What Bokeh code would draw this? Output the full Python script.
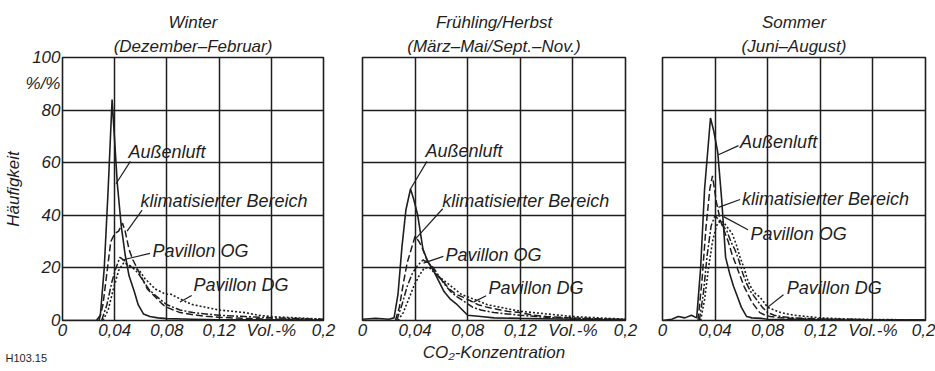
from bokeh.plotting import figure
from bokeh.layouts import row
from bokeh.models import Range1d, FixedTicker, Title
from bokeh.embed import file_html
from bokeh.resources import INLINE
from bokeh.core.properties import value

# ---------------- data ----------------
x_ticks = [0, 0.04, 0.08, 0.12, 0.16, 0.2]
x_tick_labels = ["0", "0,04", "0,08", "0,12", "Vol.-%", "0,2"]
y_grid_ticks = [0, 20, 40, 60, 80, 100]
y_axis_ticks = [0, 20, 40, 60, 80, 90, 100]
y_axis_labels = ["0", "20", "40", "60", "80", "%/%", "100"]

series_names = ["Außenluft", "klimatisierter Bereich", "Pavillon OG", "Pavillon DG"]

titles_top = ["Winter", "Frühling/Herbst", "Sommer"]
titles_sub = ["(Dezember–Februar)", "(März–Mai/Sept.–Nov.)", "(Juni–August)"]

# Winter
w_aussen_x = [0, 0.026, 0.029, 0.032, 0.035, 0.038, 0.040, 0.042, 0.045, 0.048, 0.051, 0.055, 0.058, 0.062, 0.067, 0.073, 0.080, 0.10, 0.12, 0.16, 0.2]
w_aussen_y = [0, 0, 2, 20, 50, 84, 68, 52, 36, 25, 17, 11, 6, 2.5, 1.5, 1, 0.7, 0.5, 0.3, 0.3, 0.2]
w_klima_x = [0.028, 0.031, 0.034, 0.037, 0.040, 0.043, 0.046, 0.048, 0.051, 0.054, 0.057, 0.061, 0.065, 0.069, 0.073, 0.077, 0.080, 0.085, 0.090, 0.10, 0.11, 0.12, 0.14, 0.16, 0.18, 0.2]
w_klima_y = [0, 6, 18, 30, 33, 34, 37, 34, 27, 23, 20, 16, 12, 10, 8, 6, 5, 4, 3, 2.2, 1.6, 1.2, 0.8, 0.5, 0.4, 0.3]
w_og_x = [0.030, 0.034, 0.038, 0.041, 0.044, 0.047, 0.050, 0.054, 0.058, 0.062, 0.066, 0.070, 0.075, 0.080, 0.085, 0.090, 0.10, 0.11, 0.12, 0.14, 0.16, 0.2]
w_og_y = [0, 6, 15, 20, 24, 23, 21, 20, 18, 15, 12, 10, 8, 6, 5, 4, 3, 2.5, 2, 1.5, 1, 0.5]
w_dg_x = [0.031, 0.035, 0.039, 0.043, 0.047, 0.051, 0.055, 0.059, 0.063, 0.067, 0.071, 0.075, 0.079, 0.083, 0.087, 0.091, 0.095, 0.10, 0.11, 0.12, 0.13, 0.14, 0.15, 0.16, 0.18, 0.2]
w_dg_y = [0, 4, 12, 19, 22, 21, 20, 19, 16, 14, 12, 11, 10, 10, 9, 8, 7, 6, 5, 4, 3.5, 3, 2, 1.5, 1, 0.5]

# Frühling/Herbst
s_aussen_x = [0, 0.01, 0.02, 0.024, 0.027, 0.030, 0.033, 0.0365, 0.039, 0.042, 0.046, 0.050, 0.054, 0.058, 0.062, 0.067, 0.072, 0.076, 0.080, 0.09, 0.10, 0.12, 0.16, 0.2]
s_aussen_y = [0.5, 0.8, 0.5, 1, 10, 28, 42, 50, 46, 40, 27, 22, 19, 15, 11, 8, 6, 4, 2, 1.5, 1, 0.8, 0.5, 0.3]
s_klima_x = [0.025, 0.028, 0.031, 0.034, 0.037, 0.040, 0.043, 0.046, 0.049, 0.053, 0.057, 0.061, 0.066, 0.071, 0.076, 0.082, 0.088, 0.095, 0.10, 0.11, 0.12, 0.13, 0.14, 0.16, 0.18, 0.2]
s_klima_y = [0, 5, 14, 22, 27, 32, 30, 27, 23, 20, 17, 15, 12, 10, 9, 7.5, 6, 5, 4.5, 3.5, 3, 2, 1.5, 1, 0.6, 0.4]
s_og_x = [0.026, 0.030, 0.034, 0.038, 0.042, 0.046, 0.050, 0.054, 0.058, 0.062, 0.067, 0.072, 0.078, 0.084, 0.09, 0.10, 0.11, 0.12, 0.14, 0.16, 0.2]
s_og_y = [0, 6, 13, 18, 21, 23, 22, 20, 17, 14, 11, 9, 7, 5, 4, 3, 2.5, 2, 1.2, 0.8, 0.4]
s_dg_x = [0.027, 0.031, 0.035, 0.039, 0.043, 0.047, 0.051, 0.055, 0.060, 0.065, 0.070, 0.075, 0.080, 0.085, 0.090, 0.095, 0.10, 0.11, 0.12, 0.13, 0.14, 0.15, 0.16, 0.18, 0.2]
s_dg_y = [0, 3, 8, 13, 17, 20, 20, 18, 16, 14, 12, 10, 9, 8, 7, 6, 5.5, 4.5, 3.5, 3, 2.5, 2, 1.5, 1, 0.5]

# Sommer
m_aussen_x = [0, 0.007, 0.012, 0.017, 0.022, 0.026, 0.029, 0.032, 0.0365, 0.039, 0.042, 0.045, 0.048, 0.051, 0.054, 0.057, 0.060, 0.064, 0.068, 0.075, 0.08, 0.10, 0.12, 0.16, 0.2]
m_aussen_y = [0, 0.5, 1.5, 1, 2, 1, 20, 50, 77, 72, 64, 46, 24, 18, 13, 9, 5, 1.5, 1, 0.8, 0.5, 0.4, 0.3, 0.2, 0.2]
m_klima_x = [0.027, 0.030, 0.033, 0.036, 0.038, 0.041, 0.044, 0.047, 0.050, 0.053, 0.056, 0.059, 0.062, 0.065, 0.068, 0.071, 0.074, 0.078, 0.082, 0.09, 0.10, 0.12, 0.16, 0.2]
m_klima_y = [0, 15, 35, 50, 55, 45, 38, 34, 30, 25, 21, 17, 13, 10, 7, 5, 3, 2, 1.5, 1, 0.8, 0.5, 0.3, 0.2]
m_og_x = [0.028, 0.031, 0.034, 0.037, 0.040, 0.043, 0.046, 0.049, 0.052, 0.055, 0.058, 0.061, 0.064, 0.067, 0.070, 0.073, 0.076, 0.080, 0.085, 0.09, 0.10, 0.12, 0.16, 0.2]
m_og_y = [0, 10, 25, 36, 40, 38, 36, 34, 30, 27, 23, 18, 14, 11, 9, 7, 5, 3, 2, 1.5, 1, 0.6, 0.3, 0.2]
m_dg_x = [0.029, 0.032, 0.035, 0.038, 0.041, 0.044, 0.047, 0.050, 0.053, 0.056, 0.059, 0.062, 0.065, 0.068, 0.071, 0.074, 0.077, 0.080, 0.085, 0.09, 0.095, 0.10, 0.11, 0.12, 0.14, 0.16, 0.2]
m_dg_y = [0, 8, 20, 30, 36, 38, 37, 35, 33, 29, 24, 20, 15, 12, 10, 9, 7, 5, 4, 3, 2.5, 2, 1.5, 1, 0.6, 0.4, 0.2]

# annotation label anchors (text left-middle) and leader lines, per panel, in series order
w_label_x = [0.0506, 0.0598, 0.069, 0.1004]
w_label_y = [64, 45.5, 26.3, 13.5]
w_leader_x0 = [0.052, 0.061, 0.067, 0.099]
w_leader_y0 = [60.5, 42, 25.5, 9.5]
w_leader_x1 = [0.041, 0.0495, 0.0457, 0.090]
w_leader_y1 = [52, 34, 23, 7]

s_label_x = [0.0479, 0.0606, 0.0631, 0.0958]
s_label_y = [64.3, 45.6, 24.8, 12.4]
s_leader_x0 = [0.049, 0.061, 0.0615, 0.094]
s_leader_y0 = [60.5, 42.5, 24.4, 9.4]
s_leader_x1 = [0.0365, 0.0403, 0.0464, 0.0844]
s_leader_y1 = [50, 31, 21.8, 7]

m_label_x = [0.0590, 0.0605, 0.067, 0.0945]
m_label_y = [68, 46.2, 33, 12.4]
m_leader_x0 = [0.0578, 0.059, 0.065, 0.092]
m_leader_y0 = [66.5, 46, 34.5, 9.8]
m_leader_x1 = [0.0426, 0.0426, 0.0464, 0.0796]
m_leader_y1 = [63, 43, 39.5, 4.9]

x_axis_label = "CO₂-Konzentration"
y_axis_label = "Häufigkeit"
figure_code = "H103.15"

# ---------------- styling ----------------
INK = "#1e1e1e"
FONT = "Liberation Sans"
dashes = ["solid", "7 3", "7 2 2 2", "2 2"]
widths = [1.6, 1.5, 1.5, 1.6]

panels = [
    dict(series=[(w_aussen_x, w_aussen_y), (w_klima_x, w_klima_y), (w_og_x, w_og_y), (w_dg_x, w_dg_y)],
         lx=w_label_x, ly=w_label_y, x0=w_leader_x0, y0=w_leader_y0, x1=w_leader_x1, y1=w_leader_y1),
    dict(series=[(s_aussen_x, s_aussen_y), (s_klima_x, s_klima_y), (s_og_x, s_og_y), (s_dg_x, s_dg_y)],
         lx=s_label_x, ly=s_label_y, x0=s_leader_x0, y0=s_leader_y0, x1=s_leader_x1, y1=s_leader_y1),
    dict(series=[(m_aussen_x, m_aussen_y), (m_klima_x, m_klima_y), (m_og_x, m_og_y), (m_dg_x, m_dg_y)],
         lx=m_label_x, ly=m_label_y, x0=m_leader_x0, y0=m_leader_y0, x1=m_leader_x1, y1=m_leader_y1),
]

frame_w = [261, 263, 263]
borders_left = [62, 19, 18]
borders_right = [20, 19, 10]
TOP = 57
FRAME_H = 266
BOTTOM = 48

figs = []
for i, pan in enumerate(panels):
    p = figure(width=borders_left[i] + frame_w[i] + borders_right[i], height=TOP + FRAME_H + BOTTOM,
               x_range=Range1d(0, 0.2), y_range=Range1d(0, 100),
               output_backend="svg", toolbar_location=None,
               y_axis_location="left" if i == 0 else None,
               min_border_left=borders_left[i], min_border_right=borders_right[i],
               min_border_top=TOP, min_border_bottom=BOTTOM)
    p.background_fill_color = "white"
    p.border_fill_color = "white"
    p.outline_line_color = INK
    p.outline_line_width = 1.6

    # titles (two lines): p.title is the upper line, the added Title sits next to the frame
    p.title.text = titles_top[i]
    p.title.align = "center"
    p.title.text_font = FONT
    p.title.text_font_style = "italic"
    p.title.text_font_size = "17px"
    p.title.text_color = INK
    p.title.standoff = 2
    t2 = Title(text=titles_sub[i], align="center", text_font=FONT, text_font_style="italic",
               text_font_size="17px", text_color=INK, standoff=4)
    p.add_layout(t2, "above")

    # grid
    p.xgrid.ticker = FixedTicker(ticks=x_ticks)
    p.ygrid.ticker = FixedTicker(ticks=y_grid_ticks)
    for g in (p.xgrid[0], p.ygrid[0]):
        g.grid_line_color = INK
        g.grid_line_width = 1.5
        g.grid_line_alpha = 1.0

    # x axis
    xa = p.xaxis[0]
    xa.ticker = FixedTicker(ticks=x_ticks)
    xa.major_label_overrides = {t: lab for t, lab in zip(x_ticks, x_tick_labels)}
    xa.axis_line_color = None
    xa.major_tick_line_color = None
    xa.minor_tick_line_color = None
    xa.major_tick_out = 0
    xa.major_tick_in = 0
    xa.minor_tick_out = 0
    xa.minor_tick_in = 0
    xa.major_label_standoff = 0
    xa.major_label_text_font = FONT
    xa.major_label_text_font_style = "italic"
    xa.major_label_text_font_size = "17px"
    xa.major_label_text_color = INK
    if i == 1:
        xa.axis_label = x_axis_label
        xa.axis_label_standoff = 0
        xa.axis_label_text_font = FONT
        xa.axis_label_text_font_style = "italic"
        xa.axis_label_text_font_size = "17px"
        xa.axis_label_text_color = INK
    if i == 0:
        code = Title(text=figure_code, align="left", offset=-57, text_font=FONT,
                     text_font_style="normal", text_font_size="11px", text_color=INK, standoff=15)
        p.add_layout(code, "below")

    if i == 0:
        ya = p.yaxis[0]
        ya.ticker = FixedTicker(ticks=y_axis_ticks)
        ya.major_label_overrides = {t: lab for t, lab in zip(y_axis_ticks, y_axis_labels)}
        ya.axis_line_color = None
        ya.major_tick_line_color = None
        ya.minor_tick_line_color = None
        ya.major_tick_out = 0
        ya.major_tick_in = 0
        ya.minor_tick_out = 0
        ya.minor_tick_in = 0
        ya.major_label_standoff = 2
        ya.major_label_text_font = FONT
        ya.major_label_text_font_style = "italic"
        ya.major_label_text_font_size = "17px"
        ya.major_label_text_color = INK
        ya.axis_label = y_axis_label
        ya.axis_label_standoff = 0
        ya.axis_label_text_font = FONT
        ya.axis_label_text_font_style = "italic"
        ya.axis_label_text_font_size = "17px"
        ya.axis_label_text_color = INK

    # curves
    for k, (xs, ys) in enumerate(pan["series"]):
        p.line(xs, ys, line_color=INK, line_width=widths[k], line_dash=dashes[k])

    # leaders and labels
    p.segment(pan["x0"], pan["y0"], pan["x1"], pan["y1"], line_color=INK, line_width=1.2)
    p.text(pan["lx"], pan["ly"], text=series_names, text_align="left", text_baseline="middle",
           text_font=value(FONT), text_font_style="italic", text_font_size="18px", text_color=INK)

    figs.append(p)

layout = row(*figs)
open("out.html", "w").write(file_html(layout, INLINE))
